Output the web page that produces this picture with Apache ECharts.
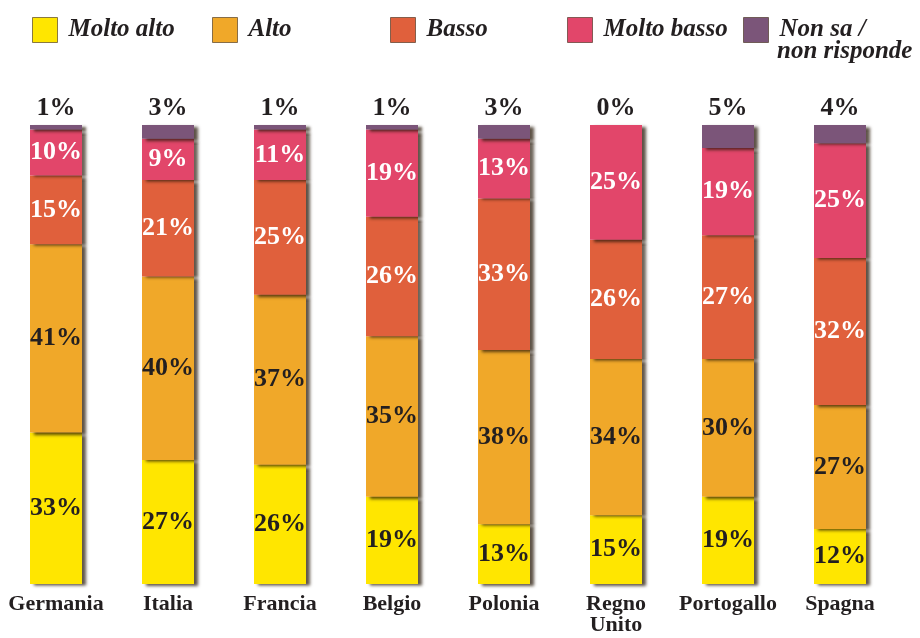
<!DOCTYPE html>
<html>
<head>
<meta charset="utf-8">
<script src="https://cdn.jsdelivr.net/npm/echarts@6/dist/echarts.min.js"></script>
<style>
  html, body { margin: 0; padding: 0; background: #fff; }
  #chart { width: 920px; height: 638px; }
</style>
</head>
<body>
<div id="chart"></div>
<script>
// dati del grafico
var categories = ['Germania', 'Italia', 'Francia', 'Belgio', 'Polonia', 'Regno\nUnito', 'Portogallo', 'Spagna'];
var moltoAlto  = [33, 27, 26, 19, 13, 15, 19, 12];
var alto       = [41, 40, 37, 35, 38, 34, 30, 27];
var basso      = [15, 21, 25, 26, 33, 26, 27, 32];
var moltoBasso = [10,  9, 11, 19, 13, 25, 19, 25];
var nonSa      = [ 1,  3,  1,  1,  3,  0,  5,  4];
var seriesNames = ['Molto alto', 'Alto', 'Basso', 'Molto basso', 'Non sa /'];

var colors = ['#ffe600', '#f0a829', '#e0603c', '#e2466a', '#7b5579'];
var labelColors = ['#231f20', '#231f20', '#fff', '#fff', '#231f20'];
var legendLeft = [27, 207, 385, 562, 738];
var serif = '"Liberation Serif", serif';

function makeSeries(name, data, idx){
	var s = {
		name: name,
		type: 'bar',
		stack: 'tot',
		barWidth: 52,
		data: data,
		itemStyle: {
			color: colors[idx],
			shadowColor: 'rgba(40,25,10,0.75)',
			shadowBlur: 3,
			shadowOffsetX: 4,
			shadowOffsetY: 2
		},
		label: {
			show: true,
			position: 'inside',
			formatter: '{c}%',
			color: labelColors[idx],
			fontFamily: serif,
			fontWeight: 'bold',
			fontSize: 26,
			textBorderWidth: 0
		}
	};
	if(idx == 4){
		s.label.position = 'top';
		s.label.distance = 4;
	}
	return s;
}

var legends = [];
for(var i = 0; i < seriesNames.length; i++){
	legends.push({
		data: [seriesNames[i]],
		left: legendLeft[i],
		top: 12,
		itemWidth: 25,
		itemHeight: 25,
		icon: 'rect',
		itemStyle: {
			borderColor: 'rgba(60,40,20,0.6)',
			borderWidth: 1
		},
		textStyle: {
			fontFamily: serif,
			fontWeight: 'bold',
			fontStyle: 'italic',
			fontSize: 25,
			color: '#231f20',
			padding: [0, 0, 0, 6]
		}
	});
}

var myChart = echarts.init(document.getElementById('chart'));
var option = {
	backgroundColor: '#fff',
	animation: false,
	title: {
		text: 'non risponde',
		left: 777,
		top: 39,
		padding: 0,
		textStyle: {
			fontFamily: serif,
			fontWeight: 'bold',
			fontStyle: 'italic',
			fontSize: 25,
			color: '#231f20'
		}
	},
	legend: legends,
	grid: {
		left: 0,
		right: 24,
		top: 125,
		bottom: 54
	},
	xAxis: {
		type: 'category',
		data: categories,
		axisLine: { show: false },
		axisTick: { show: false },
		axisLabel: {
			margin: 10,
			interval: 0,
			fontFamily: serif,
			fontWeight: 'bold',
			fontSize: 22,
			lineHeight: 21,
			color: '#231f20'
		}
	},
	yAxis: {
		type: 'value',
		min: 0,
		max: 100,
		show: false
	},
	series: [
		makeSeries(seriesNames[0], moltoAlto, 0),
		makeSeries(seriesNames[1], alto, 1),
		makeSeries(seriesNames[2], basso, 2),
		makeSeries(seriesNames[3], moltoBasso, 3),
		makeSeries(seriesNames[4], nonSa, 4)
	]
};
myChart.setOption(option);
</script>
</body>
</html>
